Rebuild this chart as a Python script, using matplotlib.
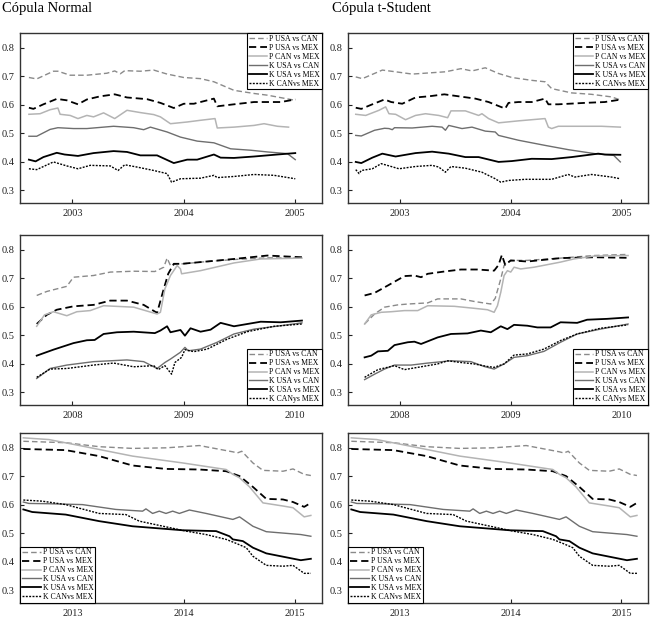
import matplotlib
matplotlib.use("Agg")
import matplotlib.pyplot as plt

plt.rcParams['font.family'] = ['Liberation Serif', 'DejaVu Serif']

labels = ['P USA vs CAN', 'P USA vs MEX', 'P CAN vs MEX',
          'K USA vs CAN', 'K USA vs MEX', 'K CANvs MEX']
labels_mid = ['P USA vs CAN', 'P USA vs MEX', 'P CAN vs MEX',
              'K USA vs CAN', 'K USA vs MEX', 'K CANys MEX']
titles = ['Cópula Normal', 'Cópula t-Student']
years_top = [2003, 2004, 2005]
years_mid = [2008, 2009, 2010]
years_bot = [2013, 2014, 2015]
yticks = [0.3, 0.4, 0.5, 0.6, 0.7, 0.8]

# ---------------- Normal copula, 2002-2005 ----------------
n03_puc_x = [2002.61, 2002.68, 2002.83, 2002.87, 2002.98, 2003.13, 2003.31, 2003.38, 2003.43, 2003.47,
             2003.61, 2003.73, 2003.85, 2004.00, 2004.15, 2004.27, 2004.45, 2004.63, 2004.75, 2005.00]
n03_puc_y = [0.696, 0.691, 0.718, 0.718, 0.704, 0.704, 0.711, 0.719, 0.709, 0.720,
             0.718, 0.722, 0.708, 0.696, 0.692, 0.681, 0.651, 0.640, 0.634, 0.616]
n03_pum_x = [2002.61, 2002.65, 2002.74, 2002.86, 2002.95, 2003.05, 2003.13, 2003.25, 2003.38, 2003.49, 2003.67,
             2003.79, 2003.91, 2004.00, 2004.09, 2004.21, 2004.27, 2004.30, 2004.45, 2004.63, 2004.87, 2005.00]
n03_pum_y = [0.590, 0.586, 0.602, 0.621, 0.616, 0.602, 0.619, 0.630, 0.637, 0.626, 0.620,
             0.607, 0.589, 0.604, 0.604, 0.616, 0.622, 0.595, 0.602, 0.610, 0.610, 0.619]
n03_pcm_x = [2002.61, 2002.71, 2002.80, 2002.87, 2002.89, 2002.98, 2003.05, 2003.13, 2003.19, 2003.28, 2003.38,
             2003.49, 2003.61, 2003.73, 2003.79, 2003.88, 2004.03, 2004.15, 2004.28, 2004.30, 2004.45, 2004.63,
             2004.72, 2004.84, 2004.94]
n03_pcm_y = [0.567, 0.569, 0.583, 0.589, 0.567, 0.563, 0.552, 0.563, 0.558, 0.572, 0.552,
             0.581, 0.573, 0.566, 0.558, 0.534, 0.540, 0.546, 0.552, 0.519, 0.522, 0.528,
             0.534, 0.525, 0.522]
n03_kuc_x = [2002.61, 2002.68, 2002.80, 2002.87, 2003.01, 2003.13, 2003.37, 2003.55, 2003.64, 2003.70,
             2003.85, 2003.97, 2004.12, 2004.27, 2004.42, 2004.60, 2004.75, 2004.93, 2005.00]
n03_kuc_y = [0.490, 0.490, 0.514, 0.520, 0.517, 0.517, 0.525, 0.520, 0.513, 0.522,
             0.505, 0.487, 0.473, 0.467, 0.446, 0.441, 0.435, 0.429, 0.408]
n03_kum_x = [2002.61, 2002.67, 2002.74, 2002.86, 2002.93, 2003.05, 2003.19, 2003.37, 2003.49, 2003.61,
             2003.76, 2003.91, 2004.03, 2004.12, 2004.27, 2004.33, 2004.45, 2004.63, 2004.84, 2005.00]
n03_kum_y = [0.408, 0.402, 0.417, 0.432, 0.426, 0.421, 0.431, 0.438, 0.435, 0.423,
             0.423, 0.396, 0.408, 0.408, 0.426, 0.415, 0.414, 0.419, 0.426, 0.431]
n03_kcm_x = [2002.61, 2002.68, 2002.83, 2002.95, 2003.05, 2003.16, 2003.34, 2003.41, 2003.47, 2003.58, 2003.73,
             2003.85, 2003.89, 2003.97, 2004.15, 2004.27, 2004.30, 2004.45, 2004.63, 2004.81, 2005.00]
n03_kcm_y = [0.376, 0.373, 0.400, 0.386, 0.376, 0.388, 0.386, 0.370, 0.390, 0.382, 0.370,
             0.359, 0.329, 0.341, 0.343, 0.353, 0.345, 0.349, 0.356, 0.353, 0.341]

# ---------------- t-Student copula, 2002-2005 ----------------
t03_puc_x = [2002.60, 2002.66, 2002.84, 2002.96, 2003.11, 2003.26, 2003.41, 2003.55, 2003.65, 2003.77,
             2003.89, 2004.01, 2004.19, 2004.31, 2004.37, 2004.55, 2004.73, 2004.91, 2005.00]
t03_puc_y = [0.698, 0.692, 0.722, 0.716, 0.708, 0.712, 0.716, 0.727, 0.719, 0.730,
             0.710, 0.696, 0.686, 0.681, 0.657, 0.642, 0.637, 0.628, 0.616]
t03_pum_x = [2002.60, 2002.65, 2002.75, 2002.86, 2002.92, 2003.02, 2003.14, 2003.26, 2003.40, 2003.53, 2003.68,
             2003.80, 2003.91, 2003.95, 2003.98, 2004.07, 2004.19, 2004.31, 2004.34, 2004.43, 2004.67, 2004.85,
             2005.00]
t03_pum_y = [0.590, 0.586, 0.602, 0.619, 0.610, 0.604, 0.626, 0.630, 0.637, 0.630, 0.622,
             0.610, 0.593, 0.587, 0.607, 0.610, 0.610, 0.622, 0.602, 0.602, 0.607, 0.610,
             0.619]
t03_pcm_x = [2002.60, 2002.69, 2002.81, 2002.87, 2002.90, 2002.96, 2003.05, 2003.14, 2003.23, 2003.35, 2003.43,
             2003.46, 2003.59, 2003.71, 2003.74, 2003.80, 2003.89, 2004.07, 2004.31, 2004.34, 2004.37, 2004.43,
             2004.61, 2004.82, 2004.99]
t03_pcm_y = [0.567, 0.563, 0.581, 0.593, 0.569, 0.567, 0.548, 0.563, 0.569, 0.563, 0.555,
             0.579, 0.579, 0.563, 0.569, 0.552, 0.537, 0.544, 0.552, 0.522, 0.517, 0.525,
             0.525, 0.525, 0.522]
t03_kuc_x = [2002.60, 2002.65, 2002.77, 2002.86, 2002.90, 2002.93, 2002.95, 2003.11, 2003.29, 2003.38, 2003.41,
             2003.44, 2003.56, 2003.65, 2003.77, 2003.86, 2003.89, 2004.07, 2004.31, 2004.52, 2004.76, 2004.93,
             2004.99]
t03_kuc_y = [0.493, 0.491, 0.511, 0.518, 0.517, 0.513, 0.520, 0.519, 0.525, 0.522, 0.511,
             0.528, 0.517, 0.522, 0.508, 0.505, 0.493, 0.476, 0.458, 0.443, 0.429, 0.423,
             0.400]
t03_kum_x = [2002.60, 2002.65, 2002.75, 2002.84, 2002.96, 2003.14, 2003.29, 2003.44, 2003.59, 2003.71,
             2003.89, 2004.01, 2004.19, 2004.37, 2004.55, 2004.79, 2004.85, 2004.99]
t03_kum_y = [0.400, 0.396, 0.415, 0.429, 0.419, 0.431, 0.436, 0.429, 0.417, 0.417,
             0.400, 0.403, 0.411, 0.410, 0.417, 0.429, 0.426, 0.425]
t03_kcm_x = [2002.60, 2002.63, 2002.65, 2002.75, 2002.83, 2002.92, 2002.99, 2003.14, 2003.29, 2003.35, 2003.41,
             2003.46, 2003.59, 2003.74, 2003.86, 2003.91, 2003.98, 2004.13, 2004.37, 2004.52, 2004.58, 2004.73,
             2004.91, 2004.99]
t03_kcm_y = [0.373, 0.359, 0.370, 0.376, 0.394, 0.384, 0.376, 0.384, 0.388, 0.382, 0.364,
             0.384, 0.378, 0.364, 0.341, 0.329, 0.335, 0.339, 0.339, 0.356, 0.347, 0.356,
             0.347, 0.341]

# ---------------- Normal copula, 2007-2010 ----------------
n08_puc_x = [2007.68, 2007.77, 2007.95, 2008.01, 2008.19, 2008.34, 2008.55, 2008.74, 2008.82, 2008.85,
             2008.88, 2008.94, 2009.00, 2009.15, 2009.45, 2009.75, 2010.06]
n08_puc_y = [0.640, 0.654, 0.672, 0.704, 0.710, 0.722, 0.725, 0.724, 0.739, 0.771,
             0.745, 0.751, 0.751, 0.757, 0.766, 0.772, 0.771]
n08_pum_x = [2007.68, 2007.77, 2007.86, 2008.01, 2008.19, 2008.34, 2008.49, 2008.64, 2008.76, 2008.82,
             2008.86, 2008.91, 2008.98, 2009.15, 2009.45, 2009.75, 2010.06]
n08_pum_y = [0.540, 0.572, 0.590, 0.602, 0.607, 0.622, 0.622, 0.607, 0.579, 0.663,
             0.716, 0.751, 0.751, 0.757, 0.768, 0.780, 0.774]
n08_pcm_x = [2007.68, 2007.75, 2007.83, 2007.95, 2008.04, 2008.16, 2008.28, 2008.55, 2008.76, 2008.79,
             2008.83, 2008.88, 2008.92, 2008.94, 2008.97, 2008.98, 2009.15, 2009.45, 2009.69, 2010.06]
n08_pcm_y = [0.532, 0.572, 0.583, 0.569, 0.583, 0.587, 0.604, 0.599, 0.575, 0.581,
             0.663, 0.710, 0.733, 0.745, 0.733, 0.716, 0.727, 0.754, 0.768, 0.771]
n08_kuc_x = [2007.68, 2007.80, 2007.95, 2008.19, 2008.49, 2008.64, 2008.76, 2008.83, 2008.88, 2008.97,
             2009.01, 2009.04, 2009.15, 2009.30, 2009.45, 2009.63, 2009.87, 2010.06]
n08_kuc_y = [0.349, 0.384, 0.396, 0.408, 0.414, 0.408, 0.384, 0.405, 0.417, 0.441,
             0.458, 0.446, 0.452, 0.476, 0.505, 0.522, 0.534, 0.544]
n08_kum_x = [2007.68, 2007.83, 2008.01, 2008.13, 2008.20, 2008.28, 2008.40, 2008.55, 2008.74, 2008.79, 2008.85,
             2008.88, 2008.97, 2009.01, 2009.06, 2009.15, 2009.24, 2009.33, 2009.45, 2009.69, 2009.87, 2010.06]
n08_kum_y = [0.429, 0.450, 0.473, 0.483, 0.484, 0.505, 0.511, 0.513, 0.508, 0.517, 0.532,
             0.511, 0.519, 0.499, 0.525, 0.513, 0.520, 0.544, 0.532, 0.548, 0.546, 0.552]
n08_kcm_x = [2007.68, 2007.80, 2007.95, 2008.19, 2008.37, 2008.55, 2008.73, 2008.77, 2008.83, 2008.89,
             2008.92, 2008.98, 2009.01, 2009.09, 2009.21, 2009.39, 2009.57, 2009.81, 2010.06]
n08_kcm_y = [0.353, 0.382, 0.384, 0.396, 0.403, 0.390, 0.394, 0.380, 0.394, 0.364,
             0.405, 0.423, 0.450, 0.443, 0.452, 0.487, 0.513, 0.532, 0.540]

# ---------------- t-Student copula, 2007-2010 ----------------
t08_puc_x = [2007.68, 2007.77, 2007.86, 2007.98, 2008.07, 2008.25, 2008.34, 2008.55, 2008.67, 2008.82,
             2008.86, 2008.91, 2008.94, 2008.97, 2009.03, 2009.15, 2009.45, 2009.75, 2010.06]
t08_puc_y = [0.540, 0.575, 0.599, 0.607, 0.610, 0.614, 0.628, 0.628, 0.619, 0.610,
             0.630, 0.698, 0.745, 0.757, 0.763, 0.763, 0.771, 0.780, 0.784]
t08_pum_x = [2007.68, 2007.77, 2007.89, 2008.04, 2008.13, 2008.19, 2008.25, 2008.40, 2008.55, 2008.70,
             2008.85, 2008.89, 2008.92, 2008.95, 2009.00, 2009.15, 2009.45, 2009.75, 2010.06]
t08_pum_y = [0.640, 0.649, 0.675, 0.708, 0.710, 0.704, 0.716, 0.724, 0.731, 0.731,
             0.727, 0.747, 0.782, 0.747, 0.763, 0.759, 0.771, 0.774, 0.772]
t08_pcm_x = [2007.68, 2007.74, 2007.83, 2007.92, 2008.04, 2008.16, 2008.25, 2008.49, 2008.67, 2008.79, 2008.85,
             2008.88, 2008.91, 2008.94, 2008.97, 2009.00, 2009.03, 2009.09, 2009.21, 2009.45, 2009.57, 2009.75,
             2010.06]
t08_pcm_y = [0.540, 0.572, 0.581, 0.583, 0.587, 0.587, 0.604, 0.602, 0.595, 0.590, 0.581,
             0.604, 0.651, 0.710, 0.727, 0.722, 0.739, 0.733, 0.739, 0.757, 0.768, 0.778,
             0.780]
t08_kuc_x = [2007.68, 2007.77, 2007.86, 2007.95, 2008.10, 2008.25, 2008.46, 2008.64, 2008.76, 2008.85,
             2008.94, 2009.03, 2009.15, 2009.30, 2009.45, 2009.60, 2009.81, 2010.06]
t08_kuc_y = [0.345, 0.364, 0.382, 0.396, 0.396, 0.403, 0.411, 0.408, 0.391, 0.382,
             0.400, 0.423, 0.429, 0.444, 0.476, 0.505, 0.522, 0.540]
t08_kum_x = [2007.68, 2007.74, 2007.80, 2007.89, 2007.95, 2008.07, 2008.13, 2008.19, 2008.34, 2008.46, 2008.61,
             2008.73, 2008.82, 2008.91, 2008.97, 2009.03, 2009.15, 2009.24, 2009.36, 2009.45, 2009.60, 2009.69,
             2009.87, 2010.06]
t08_kum_y = [0.423, 0.429, 0.444, 0.446, 0.466, 0.476, 0.478, 0.470, 0.493, 0.505, 0.507,
             0.517, 0.511, 0.532, 0.522, 0.537, 0.534, 0.528, 0.528, 0.546, 0.544, 0.555,
             0.558, 0.563]
t08_kcm_x = [2007.68, 2007.80, 2007.95, 2008.04, 2008.16, 2008.34, 2008.43, 2008.55, 2008.67, 2008.79,
             2008.85, 2008.94, 2009.03, 2009.15, 2009.30, 2009.45, 2009.60, 2009.81, 2010.06]
t08_kcm_y = [0.353, 0.380, 0.394, 0.380, 0.388, 0.400, 0.411, 0.405, 0.400, 0.391,
             0.388, 0.400, 0.431, 0.435, 0.452, 0.482, 0.505, 0.525, 0.537]

# ---------------- Normal copula, 2012-2015 ----------------
n13_puc_x = [2012.56, 2012.94, 2013.24, 2013.54, 2013.84, 2014.14, 2014.44, 2014.48, 2014.52, 2014.62,
             2014.71, 2014.89, 2014.98, 2015.08, 2015.14]
n13_puc_y = [0.823, 0.818, 0.804, 0.798, 0.800, 0.808, 0.786, 0.782, 0.788, 0.747,
             0.721, 0.718, 0.726, 0.707, 0.703]
n13_pum_x = [2012.56, 2012.94, 2013.24, 2013.54, 2013.84, 2014.14, 2014.38, 2014.50, 2014.62, 2014.74,
             2014.89, 2014.98, 2015.08, 2015.14]
n13_pum_y = [0.796, 0.792, 0.771, 0.738, 0.726, 0.724, 0.718, 0.701, 0.663, 0.621,
             0.619, 0.610, 0.593, 0.607]
n13_pcm_x = [2012.56, 2012.79, 2013.09, 2013.54, 2013.99, 2014.38, 2014.44, 2014.50, 2014.59, 2014.71,
             2014.89, 2014.98, 2015.08, 2015.14]
n13_pcm_y = [0.835, 0.829, 0.806, 0.771, 0.747, 0.724, 0.707, 0.695, 0.663, 0.607,
             0.596, 0.590, 0.558, 0.563]
n13_kuc_x = [2012.56, 2012.61, 2012.79, 2013.09, 2013.39, 2013.63, 2013.66, 2013.72, 2013.78, 2013.84,
             2013.90, 2013.96, 2014.05, 2014.20, 2014.44, 2014.50, 2014.62, 2014.74, 2015.05, 2015.14]
n13_kuc_y = [0.610, 0.605, 0.604, 0.601, 0.584, 0.578, 0.586, 0.570, 0.578, 0.570,
             0.578, 0.570, 0.582, 0.570, 0.549, 0.558, 0.525, 0.506, 0.496, 0.490]
n13_kum_x = [2012.56, 2012.64, 2012.94, 2013.24, 2013.54, 2013.99, 2014.29, 2014.41, 2014.44, 2014.53,
             2014.62, 2014.74, 2015.05, 2015.14]
n13_kum_y = [0.584, 0.575, 0.566, 0.543, 0.525, 0.511, 0.508, 0.490, 0.479, 0.473,
             0.450, 0.430, 0.406, 0.411]
n13_kcm_x = [2012.56, 2012.73, 2012.94, 2013.24, 2013.48, 2013.60, 2013.84, 2014.02, 2014.20, 2014.38,
             2014.47, 2014.56, 2014.62, 2014.74, 2014.89, 2014.98, 2015.08, 2015.14]
n13_kcm_y = [0.617, 0.613, 0.601, 0.570, 0.566, 0.543, 0.523, 0.508, 0.496, 0.479,
             0.465, 0.450, 0.420, 0.388, 0.385, 0.388, 0.360, 0.360]

# t-Student copula 2012-2015 reads the same as the normal panel
t13_puc_x, t13_puc_y = n13_puc_x, n13_puc_y
t13_pum_x, t13_pum_y = n13_pum_x, n13_pum_y
t13_pcm_x, t13_pcm_y = n13_pcm_x, n13_pcm_y
t13_kuc_x, t13_kuc_y = n13_kuc_x, n13_kuc_y
t13_kum_x, t13_kum_y = n13_kum_x, n13_kum_y
t13_kcm_x, t13_kcm_y = n13_kcm_x, n13_kcm_y

styles = [
    dict(color='#8a8a8a', lw=1.0, dashes=(4, 2.2)),
    dict(color='black', lw=1.3, dashes=(4, 2.2)),
    dict(color='#b4b4b4', lw=1.1, ls='-'),
    dict(color='#6e6e6e', lw=1.0, ls='-'),
    dict(color='black', lw=1.3, ls='-'),
    dict(color='black', lw=1.0, dashes=(1.4, 1.0)),
]

panels = [
    [[(n03_puc_x, n03_puc_y), (n03_pum_x, n03_pum_y), (n03_pcm_x, n03_pcm_y),
      (n03_kuc_x, n03_kuc_y), (n03_kum_x, n03_kum_y), (n03_kcm_x, n03_kcm_y)],
     [(t03_puc_x, t03_puc_y), (t03_pum_x, t03_pum_y), (t03_pcm_x, t03_pcm_y),
      (t03_kuc_x, t03_kuc_y), (t03_kum_x, t03_kum_y), (t03_kcm_x, t03_kcm_y)]],
    [[(n08_puc_x, n08_puc_y), (n08_pum_x, n08_pum_y), (n08_pcm_x, n08_pcm_y),
      (n08_kuc_x, n08_kuc_y), (n08_kum_x, n08_kum_y), (n08_kcm_x, n08_kcm_y)],
     [(t08_puc_x, t08_puc_y), (t08_pum_x, t08_pum_y), (t08_pcm_x, t08_pcm_y),
      (t08_kuc_x, t08_kuc_y), (t08_kum_x, t08_kum_y), (t08_kcm_x, t08_kcm_y)]],
    [[(n13_puc_x, n13_puc_y), (n13_pum_x, n13_pum_y), (n13_pcm_x, n13_pcm_y),
      (n13_kuc_x, n13_kuc_y), (n13_kum_x, n13_kum_y), (n13_kcm_x, n13_kcm_y)],
     [(t13_puc_x, t13_puc_y), (t13_pum_x, t13_pum_y), (t13_pcm_x, t13_pcm_y),
      (t13_kuc_x, t13_kuc_y), (t13_kum_x, t13_kum_y), (t13_kcm_x, t13_kcm_y)]],
]
row_years = [years_top, years_mid, years_bot]
row_labels = [labels, labels_mid, labels]
row_legloc = ['upper right', 'lower right', 'lower left']

fig = plt.figure(figsize=(6.5, 6.2), dpi=100)
col_x = [(20 / 650, 302 / 650), (348 / 650, 300 / 650)]
row_y = [1 - 203 / 620, 1 - 405 / 620, 1 - 603 / 620]
h = 170 / 620

for r in range(3):
    yrs = row_years[r]
    for c in range(2):
        x0, w = col_x[c]
        ax = fig.add_axes([x0, row_y[r], w, h])
        for (xs, ys), st, lab in zip(panels[r][c], styles, row_labels[r]):
            ax.plot(xs, ys, label=lab, **st)
        ax.set_xlim(yrs[0] - 0.47, yrs[-1] + 0.24)
        ax.set_ylim(0.256, 0.852)
        ax.set_xticks(yrs)
        ax.set_xticklabels([str(y) for y in yrs])
        ax.set_yticks(yticks)
        ax.set_yticklabels(['%.1f' % v for v in yticks])
        ax.tick_params(direction='in', length=3, width=0.8, labelsize=7.5, pad=4,
                       colors='#222222')
        for sp in ax.spines.values():
            sp.set_linewidth(1.0)
            sp.set_color('#333333')
        leg = ax.legend(loc=row_legloc[r], fontsize=5.6, frameon=True, fancybox=False,
                        edgecolor='black', framealpha=1, borderaxespad=0.05,
                        borderpad=0.2, labelspacing=0.12, handlelength=2.4,
                        handletextpad=0.25)
        leg.get_frame().set_linewidth(0.8)

fig.text(2 / 650, 1 - 2 / 620, titles[0], ha='left', va='top', fontsize=10.5)
fig.text(332 / 650, 1 - 2 / 620, titles[1], ha='left', va='top', fontsize=10.5)

fig.savefig('out.png', dpi=100)
